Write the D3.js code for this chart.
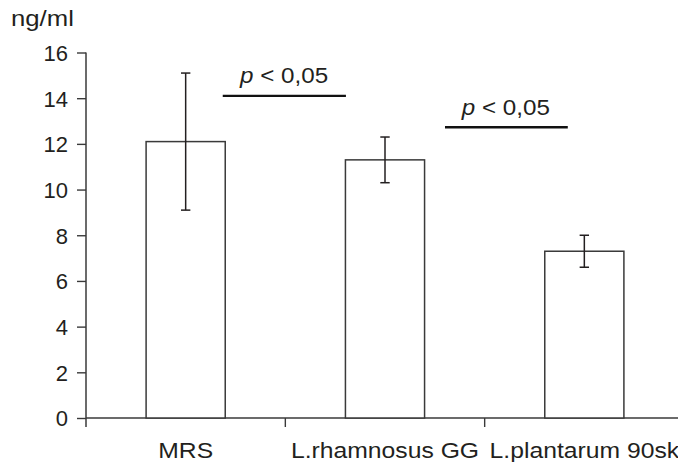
<!DOCTYPE html>
<html><head><meta charset="utf-8">
<script src="https://cdn.jsdelivr.net/npm/d3@7"></script>
<style>
html,body{margin:0;padding:0;background:#fff;}
svg text{font-family:"Liberation Sans",Arial,Helvetica,sans-serif;fill:#231f20;}
</style></head>
<body><svg id="c" width="678" height="462"></svg>
<script>
const categories = ["MRS", "L.rhamnosus GG", "L.plantarum 90sk"];
const means = [12.1, 11.3, 7.3];
const errors = [3.0, 1.0, 0.7];
const yTicks = [0, 2, 4, 6, 8, 10, 12, 14, 16];
const yUnit = "ng/ml";
// significance annotations: x in category-index units, y in data units
const sigLabels = ["0,05", "0,05"];
const sigX0 = [0.686, 1.801];
const sigX1 = [1.304, 2.417];
const sigLineY = [14.1, 12.73];
const sigTextX = [0.773, 1.885];
const sigTextY = [14.65, 13.26];

const svg = d3.select("#c");
const left = 86, right = 684, y0 = 418, yTop = 52.5;
const y = d3.scaleLinear().domain([0, 16]).range([y0, yTop]);
const x = d3.scaleBand().domain(categories).range([left, right]).paddingInner(0).paddingOuter(0);
const xi = d3.scaleLinear().domain([0, categories.length]).range([left, right]);
const barW = x.bandwidth() * 0.397;
const stroke = "#3a3a3a";

// y axis
const yAxis = d3.axisLeft(y).tickValues(yTicks).tickSize(9).tickPadding(8).tickSizeOuter(0);
const gy = svg.append("g").attr("transform", `translate(${left},0)`).call(yAxis);
gy.select(".domain").remove();
gy.selectAll(".tick line").attr("stroke", stroke).attr("stroke-width", 1.4);
gy.selectAll(".tick text").attr("font-size", 22).attr("fill", "#231f20")
  .attr("dy", "0.36em").attr("x", -18);
svg.append("line").attr("x1", left).attr("x2", left).attr("y1", y(16)).attr("y2", y0 + 9)
  .attr("stroke", stroke).attr("stroke-width", 1.5);

// x axis
svg.append("line").attr("x1", left).attr("x2", right).attr("y1", y0).attr("y2", y0)
  .attr("stroke", stroke).attr("stroke-width", 1.5);
categories.slice(1).forEach(c => {
  svg.append("line").attr("x1", x(c)).attr("x2", x(c)).attr("y1", y0).attr("y2", y0 + 9)
    .attr("stroke", stroke).attr("stroke-width", 1.4);
});
svg.selectAll(".xl").data(categories).enter().append("text")
  .attr("class", "xl")
  .attr("transform", d => `translate(${x(d) + x.bandwidth()/2},457.5) scale(1.075,1)`)
  .attr("text-anchor", "middle").attr("font-size", 23).text(d => d);

// unit label
svg.append("text").attr("transform", "translate(11,25.5) scale(1.17,1)").attr("font-size", 22).text(yUnit);

// bars
const data = categories.map((c, i) => ({c, m: means[i], e: errors[i]}));
svg.selectAll(".bar").data(data).enter().append("rect")
  .attr("x", d => x(d.c) + x.bandwidth()/2 - barW/2)
  .attr("y", d => y(d.m)).attr("width", barW).attr("height", d => y0 - y(d.m))
  .attr("fill", "#fff").attr("stroke", stroke).attr("stroke-width", 1.5);

// error bars
const cap = 4.7;
data.forEach(d => {
  const cx = x(d.c) + x.bandwidth()/2;
  const g = svg.append("g").attr("stroke", "#231f20").attr("stroke-width", 1.5);
  g.append("line").attr("x1", cx).attr("x2", cx).attr("y1", y(d.m + d.e)).attr("y2", y(d.m - d.e));
  g.append("line").attr("x1", cx - cap).attr("x2", cx + cap).attr("y1", y(d.m + d.e)).attr("y2", y(d.m + d.e));
  g.append("line").attr("x1", cx - cap).attr("x2", cx + cap).attr("y1", y(d.m - d.e)).attr("y2", y(d.m - d.e));
});

// significance
sigLabels.forEach((lab, i) => {
  svg.append("line").attr("x1", xi(sigX0[i])).attr("x2", xi(sigX1[i]))
    .attr("y1", y(sigLineY[i])).attr("y2", y(sigLineY[i]))
    .attr("stroke", "#111").attr("stroke-width", 2.4);
  const t = svg.append("text").attr("transform", `translate(${xi(sigTextX[i])},${y(sigTextY[i])}) scale(1.1,1)`)
    .attr("font-size", 22);
  t.append("tspan").attr("font-style", "italic").text("p");
  t.append("tspan").text(" < " + lab);
});
</script></body></html>
